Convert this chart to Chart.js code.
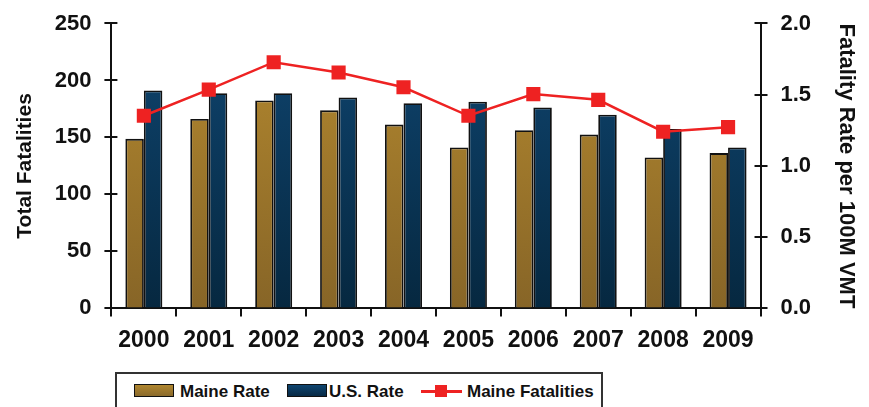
<!DOCTYPE html>
<html>
<head>
<meta charset="utf-8">
<script src="https://cdn.jsdelivr.net/npm/chart.js@4/dist/chart.umd.min.js"></script>
<style>
  html, body { margin: 0; padding: 0; background: #fff; overflow: hidden; }
  #wrap { position: relative; width: 869px; height: 407px; }
  #chartBox { position: absolute; left: 0; top: 0; width: 869px; height: 370px; }
  #legend {
    position: absolute; left: 115px; top: 372px; width: 488px; height: 50px;
    border: 2px solid #333; box-sizing: border-box;
    font-family: "Liberation Sans", Arial, sans-serif; font-weight: bold; font-size: 17px; color: #111;
  }
  #legend .sw { position: absolute; top: 10px; width: 40px; height: 13px; box-sizing: border-box; border: 1.5px solid #111; }
  #legend .txt { position: absolute; top: 7px; line-height: 22px; white-space: nowrap; }
  #legend .ln { position: absolute; top: 16px; height: 3px; width: 41px; background: #ee2222; }
  #legend .mk { position: absolute; top: 11px; width: 12px; height: 12px; background: #ee2222; }
</style>
</head>
<body>
<div id="wrap">
  <div id="chartBox"><canvas id="chart"></canvas></div>
  <div id="legend">
    <div class="sw" style="left:17px;background:linear-gradient(#b0862f,#8a6a2b);"></div>
    <div class="txt" style="left:63px;">Maine Rate</div>
    <div class="sw" style="left:170px;background:linear-gradient(#0f4570,#072a45);"></div>
    <div class="txt" style="left:212px;">U.S. Rate</div>
    <div class="ln" style="left:304px;"></div>
    <div class="mk" style="left:318px;"></div>
    <div class="txt" style="left:350px;">Maine Fatalities</div>
  </div>
</div>
<script>
// ======================
// 데이터
// ======================
const years = ["2000","2001","2002","2003","2004","2005","2006","2007","2008","2009"];
const maineRate = [1.19, 1.33, 1.46, 1.39, 1.29, 1.13, 1.25, 1.22, 1.06, 1.09];
const usRate = [1.53, 1.51, 1.51, 1.48, 1.44, 1.45, 1.41, 1.36, 1.26, 1.13];
const maineFatalities = [169, 192, 216, 207, 194, 169, 188, 183, 155, 159];

const leftTicks = [0, 50, 100, 150, 200, 250];
const rightTicks = [0.0, 0.5, 1.0, 1.5, 2.0];

const FONT = "'Liberation Sans', Arial, sans-serif";

// ======================
// 유틸
// ======================
function vGradient(ctx, area, top, bottom) {
  const g = ctx.createLinearGradient(0, area.top, 0, area.bottom);
  g.addColorStop(0, top);
  g.addColorStop(1, bottom);
  return g;
}

function barFill(top, bottom) {
  return (c) => {
    const area = c.chart.chartArea;
    if (!area) return bottom;
    return vGradient(c.chart.ctx, area, top, bottom);
  };
}

// y축 눈금을 축 안쪽으로도 조금 그림
const innerTicks = {
  id: "innerTicks",
  afterDraw(chart) {
    const ctx = chart.ctx;
    ctx.save();
    ctx.strokeStyle = "#111";
    ctx.lineWidth = 2;
    const yl = chart.scales.y, yr = chart.scales.y1;
    for (const v of leftTicks) {
      const py = Math.round(yl.getPixelForValue(v));
      ctx.beginPath();
      ctx.moveTo(yl.right, py);
      ctx.lineTo(yl.right + 6, py);
      ctx.stroke();
    }
    for (const v of rightTicks) {
      const py = Math.round(yr.getPixelForValue(v));
      ctx.beginPath();
      ctx.moveTo(yr.left - 6, py);
      ctx.lineTo(yr.left, py);
      ctx.stroke();
    }
    ctx.restore();
  }
};

// ======================
// 차트
// ======================
new Chart(document.getElementById("chart"), {
  type: "bar",
  data: {
    labels: years,
    datasets: [
      {
        type: "line",
        label: "Maine Fatalities",
        data: maineFatalities,
        yAxisID: "y",
        order: 0,
        borderColor: "#ee2222",
        borderWidth: 2.5,
        backgroundColor: "#ee2222",
        pointStyle: "rect",
        pointRadius: 10,
        pointBorderWidth: 0,
        tension: 0
      },
      {
        label: "Maine Rate",
        data: maineRate,
        yAxisID: "y1",
        order: 1,
        backgroundColor: barFill("#b4892f", "#876527"),
        borderColor: "#111",
        borderWidth: 1.8,
        borderSkipped: "bottom",
        categoryPercentage: 0.57,
        barPercentage: 1
      },
      {
        label: "U.S. Rate",
        data: usRate,
        yAxisID: "y1",
        order: 2,
        backgroundColor: barFill("#0f4570", "#062840"),
        borderColor: "#111",
        borderWidth: 1.8,
        borderSkipped: "bottom",
        categoryPercentage: 0.57,
        barPercentage: 1
      }
    ]
  },
  options: {
    responsive: true,
    maintainAspectRatio: false,
    animation: false,
    layout: { padding: { top: 6, left: 13, right: 6, bottom: 6 } },
    plugins: {
      legend: { display: false },
      tooltip: { enabled: false }
    },
    scales: {
      x: {
        offset: true,
        grid: { offset: true, drawOnChartArea: false, tickLength: 8, color: "#111", lineWidth: 2 },
        border: { color: "#111", width: 2 },
        ticks: { color: "#111", padding: 10, font: { family: FONT, size: 23, weight: "bold" } }
      },
      y: {
        position: "left",
        min: 0,
        max: 250,
        afterBuildTicks: (s) => { s.ticks = leftTicks.map(v => ({ value: v })); },
        grid: { drawOnChartArea: false, tickLength: 7, color: "#111", lineWidth: 2 },
        border: { color: "#111", width: 2 },
        ticks: { color: "#111", padding: 13, font: { family: FONT, size: 22, weight: "bold", lineHeight: 0.95 } },
        title: {
          display: true,
          text: "Total Fatalities",
          color: "#111",
          padding: { top: 0, bottom: 3.5 },
          font: { family: FONT, size: 21, weight: "bold" }
        }
      },
      y1: {
        position: "right",
        min: 0,
        max: 2,
        afterBuildTicks: (s) => { s.ticks = rightTicks.map(v => ({ value: v })); },
        grid: { drawOnChartArea: false, tickLength: 7, color: "#111", lineWidth: 2 },
        border: { color: "#111", width: 2 },
        ticks: {
          color: "#111",
          padding: 13,
          font: { family: FONT, size: 22, weight: "bold", lineHeight: 0.95 },
          callback: (v) => Number(v).toFixed(1)
        },
        title: {
          display: true,
          text: "Fatality Rate per 100M VMT",
          color: "#111",
          padding: { top: 4, bottom: 8.5 },
          font: { family: FONT, size: 22, weight: "bold" }
        }
      }
    }
  },
  plugins: [innerTicks]
});
</script>
</body>
</html>
